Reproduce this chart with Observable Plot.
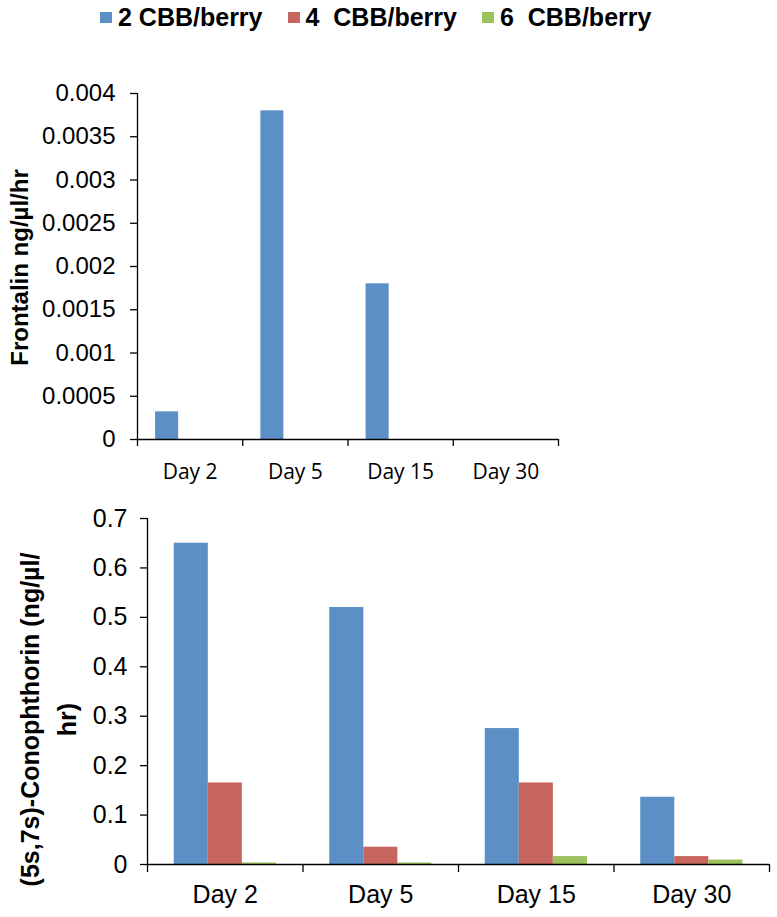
<!DOCTYPE html>
<html>
<head>
<meta charset="utf-8">
<script src="https://cdn.jsdelivr.net/npm/d3@7"></script>
<script src="https://cdn.jsdelivr.net/npm/@observablehq/plot@0.6"></script>
<style>
  html, body { margin: 0; padding: 0; background: #fff; }
  #wrap { position: relative; width: 777px; height: 917px; overflow: hidden; font-family: "Liberation Sans", Arial, sans-serif; }
  #legend { position: absolute; left: 100px; top: 2px; height: 30px; display: flex; align-items: center; gap: 25px; }
  .item { display: flex; align-items: center; font-weight: bold; font-size: 25px; white-space: pre; color: #000; }
  .sw { width: 12px; height: 11px; margin-right: 6px; }
  #top { position: absolute; left: 0; top: 50px; }
  #bottom { position: absolute; left: 0; top: 490px; }
</style>
</head>
<body>
<div id="wrap">
  <div id="legend"></div>
  <div id="top"></div>
  <div id="bottom"></div>
</div>
<script>
// ---- data ----
const days = ["Day 2", "Day 5", "Day 15", "Day 30"];
const series = ["2 CBB/berry", "4  CBB/berry", "6  CBB/berry"];
const colors = ["#5B8FC6", "#C6665F", "#9BC25C"];

const frontalin2 = [0.00032, 0.0038, 0.0018, 0];
const frontalin4 = [0, 0, 0, 0];
const frontalin6 = [0, 0, 0, 0];

const conoph2 = [0.65, 0.52, 0.275, 0.136];
const conoph4 = [0.165, 0.035, 0.165, 0.016];
const conoph6 = [0.003, 0.003, 0.016, 0.009];

const frontalinTicks = [0, 0.0005, 0.001, 0.0015, 0.002, 0.0025, 0.003, 0.0035, 0.004];
const frontalinTickLabels = ["0", "0.0005", "0.001", "0.0015", "0.002", "0.0025", "0.003", "0.0035", "0.004"];
const conophTicks = [0, 0.1, 0.2, 0.3, 0.4, 0.5, 0.6, 0.7];
const conophTickLabels = ["0", "0.1", "0.2", "0.3", "0.4", "0.5", "0.6", "0.7"];

const frontalinTitle = "Frontalin ng/µl/hr";
const conophTitle = "(5s,7s)-Conophthorin (ng/µl/\nhr)";

// ---- table ----
function table(arrs) {
  const rows = [];
  days.forEach((day, di) => {
    arrs.forEach((arr, si) => {
      rows.push({day, di, series: series[si], si, value: arr[di]});
    });
  });
  return rows;
}
const topRows = table([frontalin2, frontalin4, frontalin6]);
const botRows = table([conoph2, conoph4, conoph6]);

// group layout inside each day category (fractions of a category)
const groupPad = 0.172;
const barW = 0.219;
const boundaries = d3.range(days.length + 1);
const centers = days.map((d, i) => i + 0.5);

// ---- legend ----
const legend = document.getElementById("legend");
series.forEach((s, i) => {
  const it = document.createElement("div");
  it.className = "item";
  const sw = document.createElement("span");
  sw.className = "sw";
  sw.style.background = colors[i];
  it.appendChild(sw);
  const t = document.createElement("span");
  t.textContent = s;
  it.appendChild(t);
  legend.appendChild(it);
});

function chart(rows, opts) {
  return Plot.plot({
    width: 777,
    height: opts.height,
    marginLeft: opts.ml,
    marginRight: opts.mr,
    marginTop: opts.mt,
    marginBottom: opts.mb,
    style: {background: "transparent", fontFamily: "'Liberation Sans', Arial, sans-serif", color: "#000", overflow: "visible"},
    x: {domain: [0, days.length]},
    y: {domain: opts.ydomain},
    color: {domain: series, range: colors},
    marks: [
      Plot.rectY(rows, {
        x1: d => d.di + groupPad + d.si * barW,
        x2: d => d.di + groupPad + (d.si + 1) * barW,
        y1: 0,
        y2: "value",
        fill: "series"
      }),
      Plot.ruleX([0], {stroke: "#000", strokeWidth: 1.3}),
      Plot.ruleY([0], {stroke: "#000", strokeWidth: 1.3}),
      Plot.axisY({
        ticks: opts.ticks,
        tickFormat: (d, i) => opts.tickLabels[i],
        tickSize: 7,
        tickPadding: opts.ytp,
        fontSize: opts.yfs,
        label: null,
        stroke: "#000",
        strokeWidth: 1.3
      }),
      Plot.axisX({
        ticks: boundaries,
        tickSize: opts.xts,
        tickFormat: () => "",
        label: null,
        stroke: "#000",
        strokeWidth: 1.3
      }),
      Plot.axisX({
        ticks: centers,
        tickSize: 0,
        tickPadding: opts.xtp,
        tickFormat: d => days[Math.floor(d)],
        fontSize: opts.xfs,
        fontFamily: opts.xff,
        label: null
      }),
      Plot.text([opts.title], {
        frameAnchor: "left",
        textAnchor: "middle",
        rotate: -90,
        dx: opts.tdx,
        dy: opts.tdy,
        fontSize: opts.tfs,
        fontWeight: "bold",
        lineHeight: opts.lh,
        fill: "#000"
      })
    ]
  });
}

document.getElementById("top").appendChild(chart(topRows, {
  height: 440, ml: 137, mr: 219, mt: 43, mb: 51,
  ydomain: [0, 0.004], ticks: frontalinTicks, tickLabels: frontalinTickLabels,
  ytp: 15, yfs: 24, xts: 7, xtp: 25, xfs: 21, xff: "'Open Sans', sans-serif",
  title: frontalinTitle, tdx: -119, tdy: 1, tfs: 24, lh: 1.2
}));

document.getElementById("bottom").appendChild(chart(botRows, {
  height: 427, ml: 147, mr: 8, mt: 28, mb: 53,
  ydomain: [0, 0.7], ticks: conophTicks, tickLabels: conophTickLabels,
  ytp: 13, yfs: 25, xts: 8, xtp: 21, xfs: 25, xff: "'Liberation Sans', Arial, sans-serif",
  title: conophTitle, tdx: -102, tdy: 28, tfs: 25, lh: 1.48
}));
</script>
</body>
</html>
